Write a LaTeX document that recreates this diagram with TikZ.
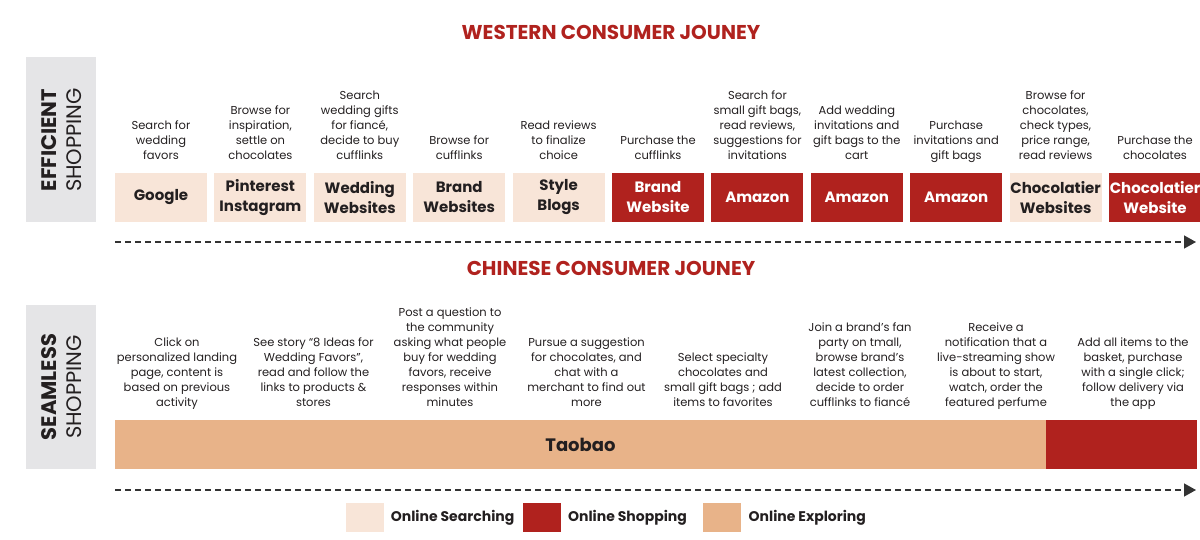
\documentclass[tikz,border=0pt]{standalone}
\usepackage{fontspec}
\setmainfont{Poppins}
\usepackage{xcolor}
\usetikzlibrary{positioning,arrows.meta}

\definecolor{jred}{RGB}{176,34,30}
\definecolor{jsearch}{RGB}{248,229,216}
\definecolor{jexplore}{RGB}{232,179,137}
\definecolor{jpanel}{RGB}{229,229,231}
\definecolor{jtext}{RGB}{35,31,32}

\begin{document}
\begin{tikzpicture}[
    x=1pt, y=-1pt,
    font=\fontsize{11.5}{15}\selectfont,
    text=jtext,
    % --- section headings ---
    heading/.style={font=\fontsize{20}{24}\selectfont\bfseries, text=jred, inner sep=0pt},
    % --- grey side panels ---
    panel/.style={fill=jpanel, minimum width=70pt, minimum height=165pt, inner sep=0pt},
    sidebold/.style={rotate=90, font=\fontsize{21}{22}\selectfont\bfseries, inner sep=0pt},
    sidelight/.style={rotate=90, font=\fontsize{21}{22}\selectfont, inner sep=0pt},
    % --- channel boxes ---
    search/.style={fill=jsearch, text width=92pt, minimum height=49pt, inner sep=0pt,
                   align=center, font=\fontsize{15}{20}\selectfont\bfseries},
    shop/.style={search, fill=jred, text=white},
    explore/.style={fill=jexplore, minimum height=49pt, inner sep=0pt,
                    font=\fontsize{18}{20}\selectfont\bfseries},
    % --- step descriptions (bottom edge = last baseline) ---
    desc/.style={align=center, inner sep=0pt, text depth=0pt},
    timeline/.style={-{Triangle[length=12pt,width=13pt]}, dash pattern=on 6pt off 4pt,
                     line width=1.4pt, black!80},
    % --- legend ---
    key/.style={minimum width=38pt, minimum height=29pt, inner sep=0pt},
    keytext/.style={font=\fontsize{14}{16}\selectfont\bfseries, inner sep=0pt},
  ]
  \useasboundingbox (0,0) rectangle (1200,540);

  % ---- WESTERN JOURNEY ---------------------------------------------------
  \node[heading] (wtitle) at (611,32) {WESTERN CONSUMER JOUNEY};
  \node[panel] (epanel) at (61,139.5) {};
  \node[sidebold] (eword) at (49,140) {EFFICIENT};
  \node[sidelight] (eshop) at (74,140) {SHOPPING};

  \node[search] (google) at (161,197.5) {Google};
  \node[search, right=7pt of google] (pinterest) {Pinterest\\Instagram};
  \node[search, right=7pt of pinterest] (wedsites) {Wedding\\Websites};
  \node[search, right=7pt of wedsites] (brandsites) {Brand\\Websites};
  \node[search, right=7pt of brandsites] (blogs) {Style\\Blogs};
  \node[shop, right=7pt of blogs] (brandsite) {Brand\\Website};
  \node[shop, right=7pt of brandsite] (amazona) {Amazon};
  \node[shop, right=7pt of amazona] (amazonb) {Amazon};
  \node[shop, right=7pt of amazonb] (amazonc) {Amazon};
  \node[search, right=7pt of amazonc] (chocsites) {Chocolatier\\Websites};
  \node[shop, right=7pt of chocsites] (chocsite) {Chocolatier\\Website};

  \node[desc, above=13pt of google] (wd1) {Search for\\wedding\\favors};
  \node[desc, above=13pt of pinterest] (wd2) {Browse for\\inspiration,\\settle on\\chocolates};
  \node[desc, above=13pt of wedsites] (wd3) {Search\\wedding gifts\\for fiancé,\\decide to buy\\cufflinks};
  \node[desc, above=13pt of brandsites] (wd4) {Browse for\\cufflinks};
  \node[desc, above=13pt of blogs] (wd5) {Read reviews\\to finalize\\choice};
  \node[desc, above=13pt of brandsite] (wd6) {Purchase the\\cufflinks};
  \node[desc, above=13pt of amazona] (wd7) {Search for\\small gift bags,\\read reviews,\\suggestions for\\invitations};
  \node[desc, above=13pt of amazonb] (wd8) {Add wedding\\invitations and\\gift bags to the\\cart};
  \node[desc, above=13pt of amazonc] (wd9) {Purchase\\invitations and\\gift bags};
  \node[desc, above=13pt of chocsites] (wd10) {Browse for\\chocolates,\\check types,\\price range,\\read reviews};
  \node[desc, above=13pt of chocsite] (wd11) {Purchase the\\chocolates};

  \coordinate (wstart) at (115,242);
  \coordinate (wend) at (1196,242);
  \draw[timeline] (wstart) -- (wend);

  % ---- CHINESE JOURNEY ---------------------------------------------------
  \node[heading] (ctitle) at (611,268) {CHINESE CONSUMER JOUNEY};
  \node[panel, minimum height=164pt] (spanel) at (61,386.5) {};
  \node[sidebold] (sword) at (49,387) {SEAMLESS};
  \node[sidelight] (sshop) at (74,387) {SHOPPING};

  \node[explore, minimum width=931pt] (taobao) at (580.5,444.5) {Taobao};
  \node[fill=jred, minimum width=151pt, minimum height=49pt, inner sep=0pt,
        right=0pt of taobao] (checkout) {};

  \node[desc, anchor=south] (cd1) at (177,407)
        {Click on\\personalized landing\\page, content is\\based on previous\\activity};
  \node[desc, anchor=south] (cd2) at (313.5,407)
        {See story “8 Ideas for\\Wedding Favors”,\\read and follow the\\links to products \&\\stores};
  \node[desc, anchor=south] (cd3) at (450,407)
        {Post a question to\\the community\\asking what people\\buy for wedding\\favors, receive\\responses within\\minutes};
  \node[desc, anchor=south] (cd4) at (586.5,407)
        {Pursue a suggestion\\for chocolates, and\\chat with a\\merchant to find out\\more};
  \node[desc, anchor=south] (cd5) at (723,407)
        {Select specialty\\chocolates and\\small gift bags ; add\\items to favorites};
  \node[desc, anchor=south] (cd6) at (860,407)
        {Join a brand’s fan\\party on tmall,\\browse brand’s\\latest collection,\\decide to order\\cufflinks to fiancé};
  \node[desc, anchor=south] (cd7) at (996,407)
        {Receive a\\notification that a\\live-streaming show\\is about to start,\\watch, order the\\featured perfume};
  \node[desc, anchor=south] (cd8) at (1133,407)
        {Add all items to the\\basket, purchase\\with a single click;\\follow delivery via\\the app};

  \coordinate (cstart) at (115,490);
  \coordinate (cend) at (1196,490);
  \draw[timeline] (cstart) -- (cend);

  % ---- LEGEND ------------------------------------------------------------
  \node[key, fill=jsearch] (ksearch) at (364.5,517.5) {};
  \node[keytext, right=7pt of ksearch] (lsearch) {Online Searching};
  \node[key, fill=jred, right=8pt of lsearch] (kshop) {};
  \node[keytext, right=7pt of kshop] (lshop) {Online Shopping};
  \node[key, fill=jexplore, right=16pt of lshop] (kexplore) {};
  \node[keytext, right=7pt of kexplore] (lexplore) {Online Exploring};

\end{tikzpicture}
\end{document}
